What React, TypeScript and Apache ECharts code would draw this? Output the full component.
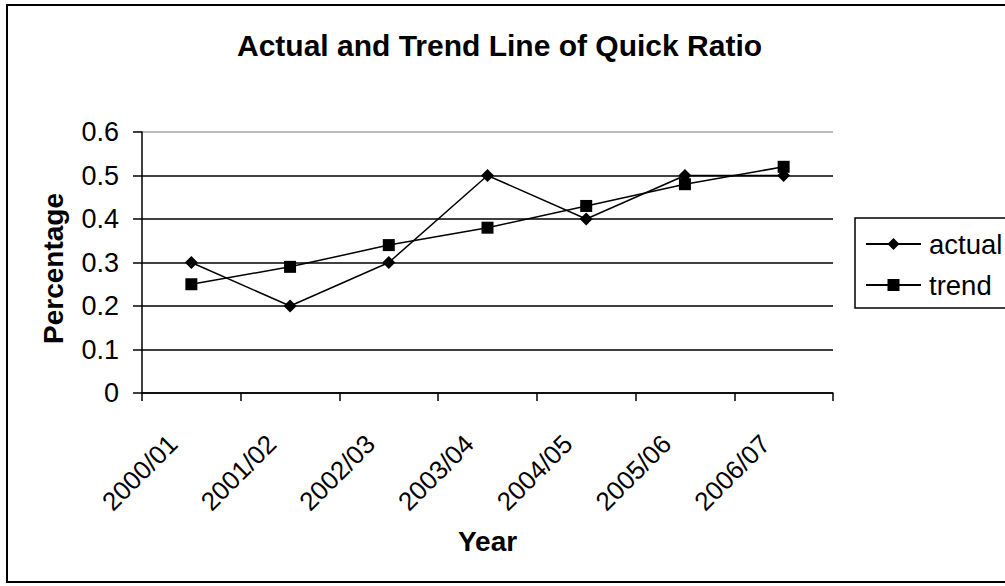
import { useEffect, useRef } from "react";
import * as echarts from "echarts";

const FONT = "'Liberation Sans', Arial, Helvetica, sans-serif";

// Financial years on the category axis
const years = ["2000/01", "2001/02", "2002/03", "2003/04", "2004/05", "2005/06", "2006/07"];
// Quick ratio as reported
const actual = [0.3, 0.2, 0.3, 0.5, 0.4, 0.5, 0.5];
// Fitted trend line values
const trend = [0.25, 0.29, 0.34, 0.38, 0.43, 0.48, 0.52];

const yMin = 0;
const yMax = 0.6;
const yStep = 0.1;

// Gridline colours by tick index: the top edge of the plot is a light grey border
const gridColors = ["#000", "#000", "#000", "#000", "#000", "#000", "#a6a6a6"];

export default function App() {
  const ref = useRef<HTMLDivElement>(null);

  useEffect(() => {
    if (!ref.current) return;
    const chart = echarts.init(ref.current, null, { renderer: "svg" });
    chart.setOption({
      animation: false,
      backgroundColor: "#fff",
      textStyle: { fontFamily: FONT, color: "#000" },
      title: {
        text: "Actual and Trend Line of Quick Ratio",
        left: 237,
        top: 30,
        padding: 0,
        textStyle: { fontFamily: FONT, fontSize: 30, fontWeight: "bold", color: "#000" },
      },
      graphic: [
        {
          type: "rect",
          shape: { x: 7, y: 5, width: 1010, height: 577 },
          style: { fill: "none", stroke: "#000", lineWidth: 2 },
          silent: true,
        },
      ],
      legend: {
        data: ["actual", "trend"],
        orient: "vertical",
        left: 855,
        top: 218,
        itemWidth: 55,
        itemHeight: 15,
        itemGap: 13,
        borderColor: "#000",
        borderWidth: 1.5,
        borderRadius: 0,
        padding: [12, 30, 9, 10],
        textStyle: {
          fontFamily: FONT,
          fontSize: 27.5,
          lineHeight: 27,
          color: "#000",
          padding: [0, 0, 0, 3],
        },
      },
      grid: { left: 142, right: 172, top: 132, bottom: 193 },
      xAxis: {
        type: "category",
        data: years,
        boundaryGap: true,
        name: "Year",
        nameLocation: "middle",
        nameGap: 134,
        nameTextStyle: { fontFamily: FONT, fontSize: 28, fontWeight: "bold", color: "#000" },
        axisLine: { show: true, lineStyle: { color: "#000", width: 1.5 } },
        axisTick: { show: true, length: 8, alignWithLabel: false, lineStyle: { color: "#000", width: 1.5 } },
        axisLabel: {
          rotate: 45,
          margin: 28,
          fontFamily: FONT,
          fontSize: 26,
          color: "#000",
          interval: 0,
          // a blank spacer after each year pulls the rotated text down and to the left
          formatter: (v: string) => `{t|${v}}{s|}`,
          rich: {
            t: { fontFamily: FONT, fontSize: 26, color: "#000" },
            s: { width: 26 },
          },
        },
        splitLine: { show: false },
      },
      yAxis: {
        type: "value",
        min: yMin,
        max: yMax,
        interval: yStep,
        name: "Percentage",
        nameLocation: "middle",
        nameRotate: 90,
        nameGap: 75,
        nameTextStyle: {
          fontFamily: FONT,
          fontSize: 28,
          fontWeight: "bold",
          color: "#000",
          padding: [0, 12, 0, 0],
        },
        axisLine: { show: true, lineStyle: { color: "#000", width: 1.5 } },
        axisTick: { show: true, length: 9, lineStyle: { color: "#000", width: 1.5 } },
        axisLabel: { margin: 23, fontFamily: FONT, fontSize: 27, color: "#000" },
        splitLine: { show: true, lineStyle: { color: gridColors, width: 1.5 } },
      },
      series: [
        {
          name: "actual",
          type: "line",
          data: actual,
          symbol: "diamond",
          symbolSize: 13,
          lineStyle: { color: "#000", width: 1.5 },
          itemStyle: { color: "#000", borderWidth: 0 },
          z: 3,
        },
        {
          name: "trend",
          type: "line",
          data: trend,
          symbol: "rect",
          symbolSize: 12,
          lineStyle: { color: "#000", width: 1.5 },
          itemStyle: { color: "#000", borderWidth: 0 },
          z: 3,
        },
      ],
    });
    return () => chart.dispose();
  }, []);

  return (
    <div
      ref={ref}
      style={{ position: "fixed", left: 0, top: 0, width: 1005, height: 586, background: "#fff" }}
    />
  );
}
